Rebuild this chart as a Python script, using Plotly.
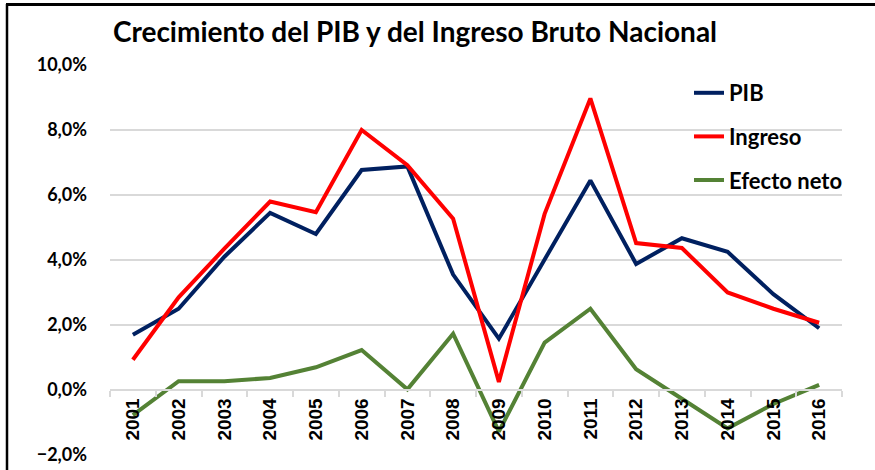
import plotly.graph_objects as go

years = [str(y) for y in range(2001, 2017)]
pib = [1.7, 2.5, 4.1, 5.45, 4.8, 6.77, 6.88, 3.55, 1.58, 4.0, 6.45, 3.88, 4.67, 4.25, 2.95, 1.9]
ingreso = [0.93, 2.85, 4.35, 5.8, 5.47, 8.0, 6.92, 5.27, 0.25, 5.42, 8.97, 4.52, 4.37, 3.0, 2.5, 2.07]
efecto = [-0.77, 0.27, 0.27, 0.37, 0.7, 1.23, 0.02, 1.73, -1.28, 1.46, 2.5, 0.64, -0.27, -1.18, -0.43, 0.16]

series = [("PIB", pib, "#002060"), ("Ingreso", ingreso, "#FF0000"), ("Efecto neto", efecto, "#548235")]

fig = go.Figure()
for i, (name, vals, col) in enumerate(series):
    fig.add_trace(go.Scatter(x=years, y=vals, name=name, mode="lines",
                             line=dict(color=col, width=4), legendgroup=f"g{i}"))

L, R, T, B = 110, 33, 65, 15
PW, PH = 875 - L - R, 470 - T - B

def px_x(p):
    return (p - L) / PW

def px_y(p):
    return 1 - (p - T) / PH

fig.update_layout(
    width=875, height=470,
    margin=dict(l=L, r=R, t=T, b=B, autoexpand=False),
    paper_bgcolor="white", plot_bgcolor="white",
    separators=",.",
    showlegend=True,
    title=dict(text="<b>Crecimiento del PIB y del Ingreso Bruto Nacional</b>",
               x=415/875, xanchor="center", xref="container",
               y=1-32/470, yanchor="middle", yref="container",
               font=dict(family="Lato", size=28, color="black")),
    legend=dict(x=px_x(689), xanchor="left", y=px_y(72), yanchor="top",
                font=dict(family="Lato", size=22, color="black", weight="bold"),
                tracegroupgap=12, bgcolor="rgba(0,0,0,0)"),
    xaxis=dict(type="category", anchor="free", position=2/12, range=[-0.5, 15.5],
               automargin=False,
               showgrid=False, showline=True, linecolor="#D9D9D9", linewidth=1.5,
               ticks="outside", ticklen=6, tickcolor="#D9D9D9", tickwidth=1.5,
               tickson="boundaries", tickangle=-90,
               tickfont=dict(family="Liberation Sans", size=19, color="black", weight="bold")),
    yaxis=dict(range=[-2, 10], dtick=2, tickformat=".1f", ticksuffix="%",
               automargin=False,
               showgrid=True, gridcolor="#D9D9D9", gridwidth=1.5, zeroline=False,
               ticklabelstandoff=22,
               tickfont=dict(family="Lato", size=18, color="black", weight="bold")),
    shapes=[
        dict(type="line", xref="paper", yref="paper",
             x0=px_x(7), x1=px_x(7), y0=px_y(4), y1=px_y(480),
             line=dict(color="black", width=2.5), layer="above"),
        dict(type="line", xref="paper", yref="paper",
             x0=px_x(6), x1=px_x(880), y0=px_y(4.5), y1=px_y(4.5),
             line=dict(color="black", width=3), layer="above"),
    ],
)

fig.write_html("out.html", config={"displayModeBar": False},
               post_script="document.body.style.margin='0px';")
